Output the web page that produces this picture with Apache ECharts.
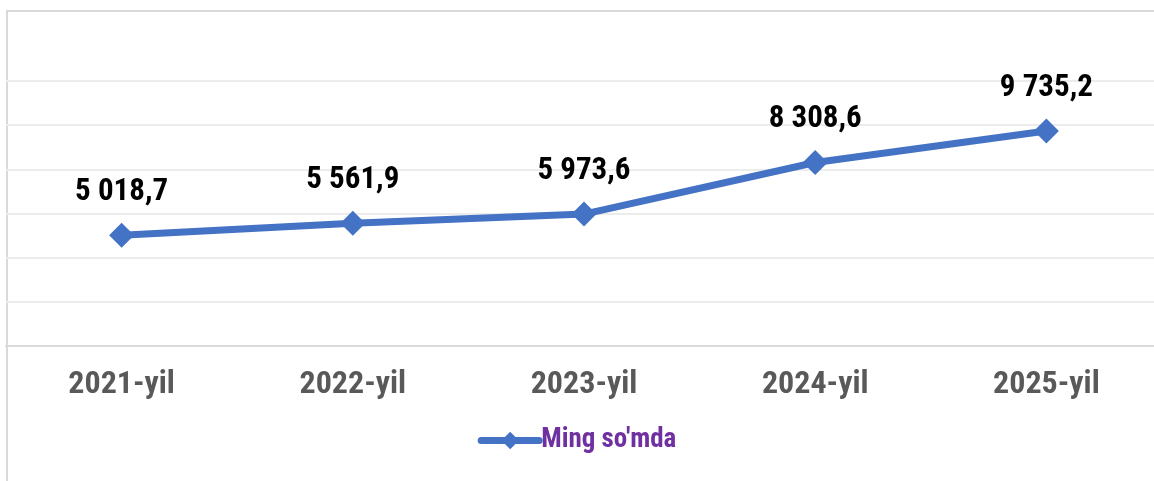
<!DOCTYPE html>
<html>
<head>
<meta charset="utf-8">
<script src="https://cdn.jsdelivr.net/npm/echarts@6/dist/echarts.min.js"></script>
<style>
  html, body { margin: 0; padding: 0; background: #fff; }
  #main { width: 1154px; height: 481px; }
</style>
</head>
<body>
<div id="main"></div>
<script>
  // data
  const years = ['2021-yil', '2022-yil', '2023-yil', '2024-yil', '2025-yil'];
  const values = [5018.7, 5561.9, 5973.6, 8308.6, 9735.2];
  const seriesName = "Ming so'mda";

  const condensed = '"Roboto Condensed", "Liberation Sans Narrow", "DejaVu Sans Condensed", Roboto, sans-serif';

  // 9735.2 -> "9 735,2"
  function fmt(v) {
    const parts = v.toFixed(1).split('.');
    return parts[0].replace(/\B(?=(\d{3})+(?!\d))/g, ' ') + ',' + parts[1];
  }

  const chart = echarts.init(document.getElementById('main'));
  const option = {
    backgroundColor: '#fff',
    animation: false,
    graphic: [{
      type: 'rect',
      shape: { x: 7, y: 11, width: 1160, height: 480 },
      style: { fill: 'none', stroke: '#d9d9d9', lineWidth: 2 },
      silent: true
    }],
    grid: { left: 6, right: -8, top: 81, bottom: 135, outerBoundsMode: 'none' },
    legend: {
      bottom: 22,
      left: 'center',
      itemWidth: 58,
      itemHeight: 22,
      itemGap: 10,
      lineStyle: { width: 7, cap: 'round' },
      textStyle: { color: '#7030a0', fontSize: 27, fontWeight: 'bold', fontFamily: condensed, padding: [0, 0, 0, -3] }
    },
    xAxis: {
      type: 'category',
      data: years,
      axisLine: { lineStyle: { color: '#d9d9d9', width: 2 } },
      axisTick: { show: false },
      axisLabel: { color: '#595959', fontSize: 32, fontWeight: 'bold', fontFamily: condensed, margin: 23 }
    },
    yAxis: {
      type: 'value',
      min: 0,
      max: 12000,
      interval: 2000,
      axisLabel: { show: false },
      axisLine: { show: false },
      axisTick: { show: false },
      splitLine: { lineStyle: { color: '#ececec', width: 2 } }
    },
    series: [{
      name: seriesName,
      type: 'line',
      data: values,
      symbol: 'diamond',
      symbolSize: 25,
      lineStyle: { color: '#4472c4', width: 7 },
      itemStyle: { color: '#4472c4' },
      label: {
        show: true,
        position: 'top',
        distance: 15,
        color: '#000',
        fontSize: 31,
        fontWeight: 'bold',
        fontFamily: condensed,
        formatter: p => fmt(p.value)
      }
    }]
  };
  chart.setOption(option);
</script>
</body>
</html>
